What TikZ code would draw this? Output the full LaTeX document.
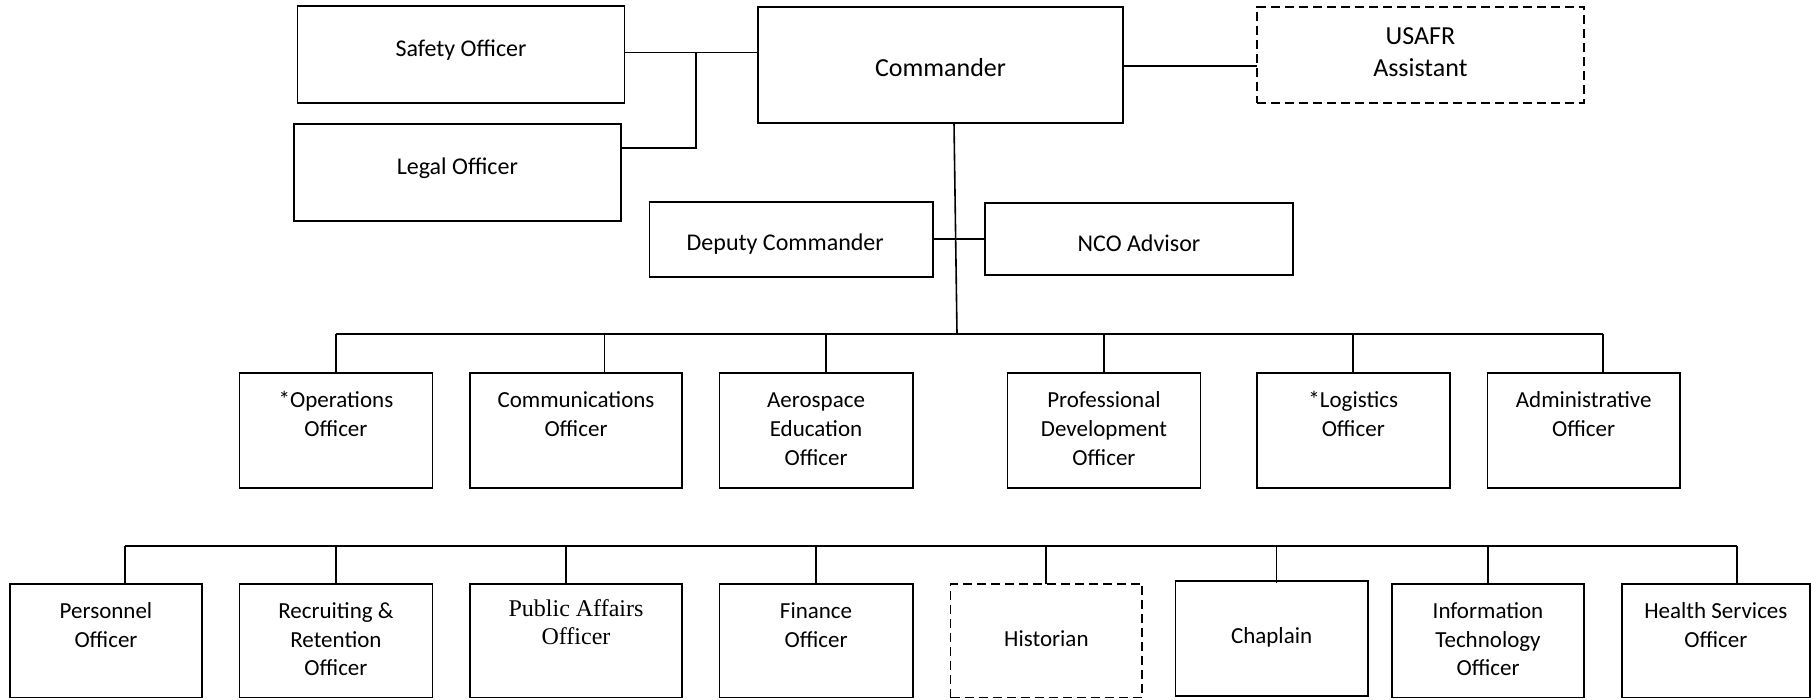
\documentclass[tikz,border=0pt]{standalone}
\usepackage{fontspec}
\setmainfont{Carlito}
\newfontfamily\tnr{Liberation Serif}
\newcommand{\boxtxt}[4]{\parbox[c][#2pt][t]{#1pt}{\centering\rule{0pt}{#3pt}#4\par}}
\tikzset{
  box/.style={draw=black, line width=1.8pt, inner sep=0pt, outer sep=0pt, rectangle},
  dbox/.style={box, dash pattern=on 9pt off 5pt},
  conn/.style={draw=black, line width=1.6pt},
  topf/.style={font=\fontsize{24pt}{28pt}\selectfont},
  rowf/.style={font=\fontsize{23pt}{28.7pt}\selectfont},
}
\begin{document}
\begin{tikzpicture}[x=1pt, y=-1pt]
\useasboundingbox (0,0) rectangle (1811,699);

% top
\node[box, topf] (safety) at (461,54.5) {\boxtxt{327}{97}{50.5}{Safety Officer}};
\node[box, topf] (legal) at (457.35,172.5) {\boxtxt{327.3}{97}{50}{Legal Officer}};
\node[box, font=\fontsize{26pt}{30pt}\selectfont] (cmd) at (940.5,65) {\boxtxt{365}{116}{69.7}{Commander}};
\node[dbox, font=\fontsize{26pt}{31.7pt}\selectfont] (usafr) at (1420.35,54.85) {\boxtxt{327.3}{96.3}{37.6}{USAFR\\Assistant}};
\node[box, topf] (dep) at (791.25,239.5) {\boxtxt{283.5}{75}{48.7}{Deputy Commander\hspace*{12pt}}};
\node[box, topf] (nco) at (1139,239) {\boxtxt{308}{72}{48.7}{NCO Advisor}};

% row 1
\node[box, rowf] (ops) at (335.95,430.35) {\boxtxt{193.1}{115.3}{35}{*Operations\\Officer}};
\node[box, rowf] (comms) at (576,430.35) {\boxtxt{212}{115.3}{35}{Communications\\Officer}};
\node[box, rowf] (aero) at (816.05,430.35) {\boxtxt{193.1}{115.3}{35}{Aerospace\\Education\\Officer}};
\node[box, rowf] (prof) at (1103.95,430.35) {\boxtxt{192.9}{115.3}{35}{Professional\\Development\\Officer}};
\node[box, rowf] (log) at (1353.25,430.35) {\boxtxt{192.9}{115.3}{35}{*Logistics\\Officer}};
\node[box, rowf] (admin) at (1583.65,430.35) {\boxtxt{192.3}{115.3}{35}{Administrative\\Officer}};

% row 2
\node[box, rowf] (pers) at (106,640.75) {\boxtxt{192}{113.5}{34.3}{Personnel\\Officer}};
\node[box, rowf] (recr) at (335.95,640.75) {\boxtxt{193.1}{113.5}{34.3}{Recruiting \&\\Retention\\Officer}};
\node[box, font=\tnr\fontsize{24pt}{27.6pt}\selectfont] (pa) at (576,640.75) {\boxtxt{212}{113.5}{32.7}{Public Affairs\\Officer}};
\node[box, rowf] (fin) at (816.05,640.75) {\boxtxt{193.1}{113.5}{34.3}{Finance\\Officer}};
\node[dbox, rowf] (hist) at (1046.4,640.75) {\boxtxt{191.8}{113.5}{62.7}{Historian}};
\node[box, rowf] (chap) at (1271.6,638.35) {\boxtxt{192.4}{115.3}{62.6}{Chaplain}};
\node[box, rowf] (it) at (1488,640.75) {\boxtxt{192}{113.5}{34.3}{Information\\Technology\\Officer}};
\node[box, rowf] (health) at (1715.85,640.75) {\boxtxt{188.3}{113.5}{34.3}{Health Services\\Officer}};

% top connectors
\coordinate (j1) at (696,52.3);
\coordinate (j2) at (696,148);
\draw[conn] (safety.east |- j1) -- (cmd.west |- j1);
\draw[conn] (j1) -- (j2) -- (legal.east |- j2);
\coordinate (j3) at (1190,65.7);
\draw[conn] (cmd.east |- j3) -- (usafr.west |- j3);
\coordinate (j4) at (955,239);
\draw[conn] (dep.east |- j4) -- (nco.west |- j4);
\coordinate (cb) at (957,334);
\draw[conn] ([xshift=13.5pt]cmd.south) -- (cb);

% bus 1
\coordinate (a1) at (335.7,334);
\coordinate (a2) at (604.5,334);
\coordinate (a3) at (825.7,334);
\coordinate (a4) at (1104,334);
\coordinate (a5) at (1353,334);
\coordinate (a6) at (1603,334);
\draw[conn] (a1) -- (a6);
\draw[conn] (a1) -- (a1 |- ops.north);
\draw[conn] (a2) -- (a2 |- comms.north);
\draw[conn] (a3) -- (a3 |- aero.north);
\draw[conn] (a4) -- (a4 |- prof.north);
\draw[conn] (a5) -- (a5 |- log.north);
\draw[conn] (a6) -- (a6 |- admin.north);

% bus 2
\coordinate (b1) at (125,545.7);
\coordinate (b2) at (335.7,545.7);
\coordinate (b3) at (566,545.7);
\coordinate (b4) at (815.7,545.7);
\coordinate (b5) at (1045.8,545.7);
\coordinate (b6) at (1276.5,545.7);
\coordinate (b7) at (1488,545.7);
\coordinate (b8) at (1737,545.7);
\draw[conn] (b1) -- (b8);
\draw[conn] (b1) -- (b1 |- pers.north);
\draw[conn] (b2) -- (b2 |- recr.north);
\draw[conn] (b3) -- (b3 |- pa.north);
\draw[conn] (b4) -- (b4 |- fin.north);
\draw[conn] (b5) -- (b5 |- hist.north);
\draw[conn] (b6) -- ([yshift=-2.5pt]b6 |- chap.north);
\draw[conn] (b7) -- (b7 |- it.north);
\draw[conn] (b8) -- (b8 |- health.north);
\end{tikzpicture}
\end{document}
